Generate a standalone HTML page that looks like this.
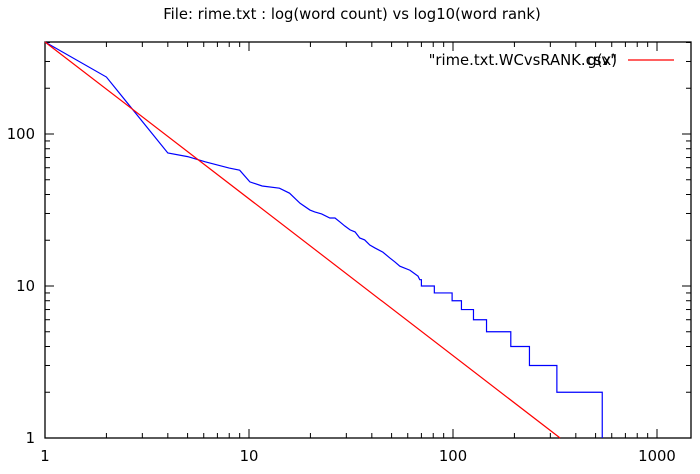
<!DOCTYPE html>
<html><head><meta charset="utf-8"><style>
body{margin:0;background:#fff;width:700px;height:469px;overflow:hidden}
svg{font-family:"DejaVu Sans","Liberation Sans",sans-serif}
</style></head><body>
<svg id="chart" width="700" height="469">
<text x="352" y="19" font-size="14.8" text-anchor="middle">File: rime.txt : log(word count) vs log10(word rank)</text>
<g id="axes"></g>
<g id="series"></g>
<text x="617" y="65" font-size="14.8" text-anchor="end">"rime.txt.WCvsRANK.csv"</text>
<text x="617" y="65" font-size="14.8" text-anchor="end">g(x)</text>
<line x1="628" y1="60" x2="674" y2="60" stroke="#f00" stroke-width="1.3"/>
</svg>
<script>
const xTicks=[1,10,100,1000];
const xTickLabels=["1","10","100","1000"];
const yTicks=[1,10,100];
const yTickLabels=["1","10","100"];
const ranks=[1,2,4,5,6.1,8,9,10.1,11.6,14.1,15.8,17.8,19.9,21,22.7,24.9,26.4,27.9,29.5,31.3,33.1,34.9,36.9,39.1,41.4,45.3,49,51.9,54.9,61.5,67.4,68.7,70,70,81,81,99,99,110,110,126,126,146,146,192,192,237,237,323,323,539,539];
const counts=[403,237,75,71,65.6,59.7,57.8,48.4,45.5,44,40.8,35,31.6,30.7,29.8,28,28,26.4,24.8,23.4,22.7,20.7,20.1,18.6,17.8,16.7,15.3,14.4,13.5,12.7,11.6,11,11,10,10,9,9,8,8,7,7,6,6,5,5,4,4,3,3,2,2,1];
const fitX=[1,335];
const fitY=[403,1];
const L=45,R=691,T=42,B=438,XD=204,YD=152;
const sx=v=>L+Math.log10(v)*XD;
const sy=v=>B-Math.log10(v)*YD;
const NS="http://www.w3.org/2000/svg";
const ax=document.getElementById('axes'),se=document.getElementById('series');
function mk(tag,attrs,parent,txt){const e=document.createElementNS(NS,tag);for(const k in attrs)e.setAttribute(k,attrs[k]);if(txt!==undefined)e.textContent=txt;parent.appendChild(e);return e;}
let e=mk('rect',{x:L,y:T,width:R-L,height:B-T,fill:'none',stroke:'#000','stroke-width':1.3},ax);


xTicks.forEach((t,i)=>{for(let m=1;m<10;m++){const v=t*m;const x=sx(v);if(x>R)break;const len=m===1?9:5;
 e=mk('line',{x1:x,y1:B,x2:x,y2:B-len,stroke:'#000'},ax);
 
 
 e=mk('line',{x1:x,y1:T,x2:x,y2:T+len,stroke:'#000'},ax);
 
 }
 e=mk('text',{x:sx(t),y:B+23,'font-size':14.8,'text-anchor':'middle'},ax,xTickLabels[i]);
 
 });
yTicks.forEach((t,i)=>{for(let m=1;m<10;m++){const v=t*m;const y=sy(v);if(y<T)break;const len=m===1?9:5;
 e=mk('line',{x1:L,y1:y,x2:L+len,y2:y,stroke:'#000'},ax);
 
 
 e=mk('line',{x1:R,y1:y,x2:R-len,y2:y,stroke:'#000'},ax);
 
 }
 e=mk('text',{x:L-10,y:sy(t)+5,'font-size':14.8,'text-anchor':'end'},ax,yTickLabels[i]);
 
 });
e=mk('polyline',{points:ranks.map((r,i)=>sx(r)+','+sy(counts[i])).join(' '),fill:'none',stroke:'#00f','stroke-width':1.2},se);


e=mk('polyline',{points:fitX.map((r,i)=>sx(r)+','+sy(fitY[i])).join(' '),fill:'none',stroke:'#f00','stroke-width':1.2},se);


</script>
</body></html>
